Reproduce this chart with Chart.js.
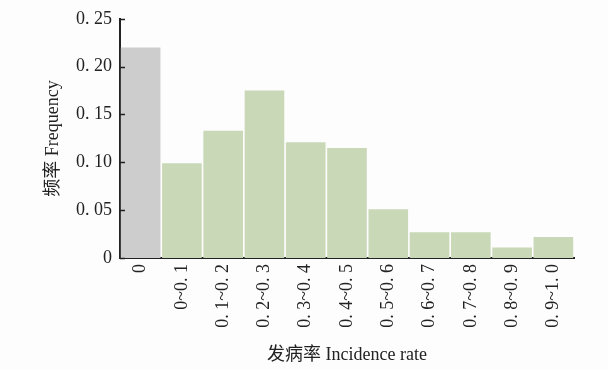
<!DOCTYPE html>
<html>
<head>
<meta charset="utf-8">
<script src="https://cdn.jsdelivr.net/npm/chart.js@4/dist/chart.umd.min.js"></script>
<style>
  html, body { margin: 0; padding: 0; background: #fdfdfd; }
  #wrap { width: 608px; height: 369px; position: relative; }
</style>
</head>
<body>
<div id="wrap"><canvas id="c" width="608" height="369"></canvas></div>
<script>
// Incidence-rate classes (x axis)
const categories = ['0', '0~0. 1', '0. 1~0. 2', '0. 2~0. 3', '0. 3~0. 4', '0. 4~0. 5',
                    '0. 5~0. 6', '0. 6~0. 7', '0. 7~0. 8', '0. 8~0. 9', '0. 9~1. 0'];
// Frequency of each class
const frequency = [0.220, 0.099, 0.133, 0.175, 0.121, 0.115, 0.051, 0.027, 0.027, 0.011, 0.022];
// Y-axis tick labels (0 to 0.25, step 0.05)
const yTickLabels = ['0', '0. 05', '0. 10', '0. 15', '0. 20', '0. 25'];

const FONT = "'Liberation Serif', 'Noto Sans CJK SC', serif";
const INK = '#222222';
const barColors = frequency.map((_, i) => i === 0 ? '#cdcdcd' : '#c9d8b6');

// Short tick marks pointing into the plot from the y axis
const inwardTicks = {
  id: 'inwardTicks',
  afterDatasetsDraw(chart) {
    const { ctx } = chart;
    const y = chart.scales.y;
    ctx.save();
    ctx.strokeStyle = INK;
    ctx.lineWidth = 1.5;
    y.ticks.forEach(t => {
      const py = Math.round(y.getPixelForValue(t.value)) + 0.5;
      ctx.beginPath();
      ctx.moveTo(y.right, py);
      ctx.lineTo(y.right + 5, py);
      ctx.stroke();
    });
    ctx.restore();
  }
};

new Chart(document.getElementById('c'), {
  type: 'bar',
  data: {
    labels: categories,
    datasets: [{
      data: frequency,
      backgroundColor: barColors,
      borderWidth: 0,
      barPercentage: 0.96,
      categoryPercentage: 1.0
    }]
  },
  options: {
    responsive: false,
    animation: false,
    layout: { padding: { top: 17, right: 34, left: 0, bottom: 0 } },
    plugins: { legend: { display: false }, tooltip: { enabled: false } },
    scales: {
      x: {
        grid: { display: false, drawTicks: false },
        border: { color: INK, width: 2 },
        ticks: {
          color: INK,
          font: { family: FONT, size: 18 },
          minRotation: 90, maxRotation: 90,
          padding: 6,
          autoSkip: false
        },
        title: {
          display: true,
          text: '发病率 Incidence rate',
          color: INK,
          font: { family: FONT, size: 18 },
          padding: { top: 0, bottom: 3 }
        },
        afterFit: s => { s.height = 111; }
      },
      y: {
        min: 0, max: 0.25,
        grid: { display: false, drawTicks: false },
        border: { color: INK, width: 2 },
        ticks: {
          stepSize: 0.05,
          color: INK,
          font: { family: FONT, size: 18 },
          padding: 8,
          callback: (v, i) => yTickLabels[i]
        },
        title: {
          display: true,
          text: '频率 Frequency',
          color: INK,
          font: { family: FONT, size: 18 },
          padding: { top: 42, bottom: 0 }
        },
        afterFit: s => { s.width = 120; }
      }
    }
  },
  plugins: [inwardTicks]
});
</script>
</body>
</html>
